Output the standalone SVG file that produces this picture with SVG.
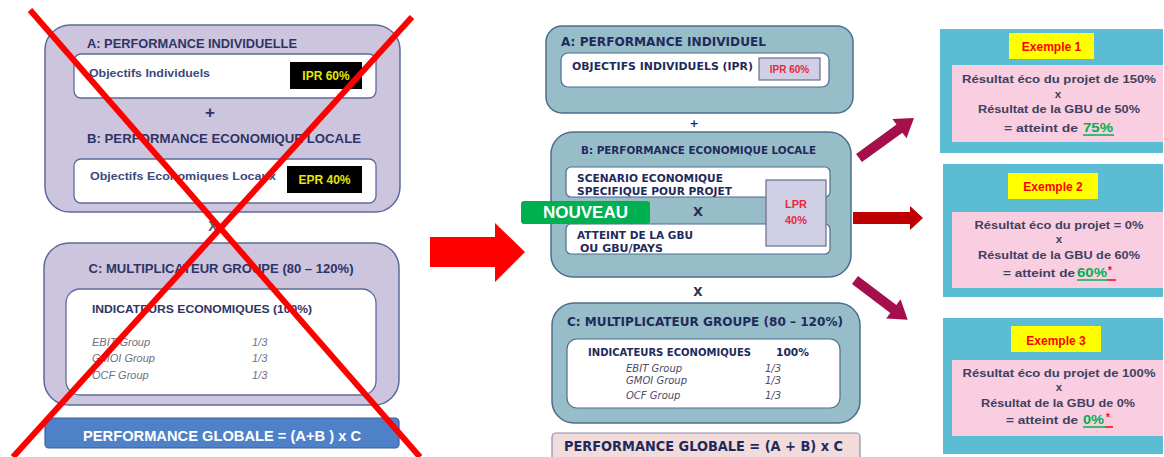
<svg xmlns="http://www.w3.org/2000/svg" width="1164" height="457" viewBox="0 0 1164 457">
<style>
.lav{fill:#cdc4dd;stroke:#5d6b98;stroke-width:1.5}
.wl{fill:#fff;stroke:#5d6b98;stroke-width:1.3}
.teal{fill:#97bec8;stroke:#4d6d8d;stroke-width:1.5}
.wm{fill:#fff;stroke:#4d6d8d;stroke-width:1.2}
.lpr{fill:#cfcfe6;stroke:#6b6b8b;stroke-width:1.2}
.ex{fill:#5bbdd3}
.yel{fill:#ffff00}
.pink{fill:#f9cee0}
.lt{font-family:"Liberation Sans",Arial,sans-serif;font-weight:bold;fill:#2e3566}
.lo{font-family:"Liberation Sans",Arial,sans-serif;font-weight:bold;fill:#3b4a7c}
.lg{font-family:"Liberation Sans",Arial,sans-serif;font-style:italic;fill:#707080;font-size:11px}
.mt{font-family:"DejaVu Sans",Verdana,sans-serif;font-weight:bold;fill:#1f2a5c}
.mi{font-family:"DejaVu Sans",Verdana,sans-serif;font-style:italic;fill:#4a4a6a;font-size:10px}
.red{fill:#e8283c;font-family:"Liberation Sans",Arial,sans-serif;font-weight:bold}
.rt{font-family:"Liberation Sans",Arial,sans-serif;font-weight:bold;fill:#404060;font-size:11.5px}
.exl{font-family:"Liberation Sans",Arial,sans-serif;font-weight:bold;fill:#ff0000;font-size:12px}
.gr{fill:#00b050;font-size:13px}
.ast{font-family:"Liberation Sans",Arial,sans-serif;font-weight:bold;fill:#ff0000;font-size:10px}
</style>

<!-- LEFT (old) -->
<g id="left-ab">
  <rect class="lav" x="45" y="25" width="355" height="187" rx="25"/>
  <text class="lt" x="87" y="48" font-size="12.5" textLength="210" lengthAdjust="spacingAndGlyphs">A: PERFORMANCE INDIVIDUELLE</text>
  <rect class="wl" x="74" y="54" width="302" height="44" rx="7"/>
  <text class="lo" x="89" y="77" font-size="11" textLength="121" lengthAdjust="spacingAndGlyphs">Objectifs Individuels</text>
  <rect x="290" y="62" width="72" height="27" fill="#000"/>
  <text x="326" y="80" text-anchor="middle" font-family="Liberation Sans, Arial, sans-serif" font-weight="bold" font-size="12" fill="#e6e600">IPR 60%</text>
  <text class="lt" x="210" y="118" font-size="17" text-anchor="middle">+</text>
  <text class="lt" x="87" y="143" font-size="12.5" textLength="274" lengthAdjust="spacingAndGlyphs">B: PERFORMANCE ECONOMIQUE LOCALE</text>
  <rect class="wl" x="74" y="159" width="302" height="44" rx="7"/>
  <text class="lo" x="90" y="180" font-size="11" textLength="186" lengthAdjust="spacingAndGlyphs">Objectifs Economiques Locaux</text>
  <rect x="287" y="166" width="75" height="27" fill="#000"/>
  <text x="324.5" y="184" text-anchor="middle" font-family="Liberation Sans, Arial, sans-serif" font-weight="bold" font-size="12" fill="#e6e600">EPR 40%</text>
</g>
<g id="left-x">
  <text class="lt" x="213" y="231" font-size="14" text-anchor="middle" style="fill:#555a70">X</text>
</g>
<g id="left-c">
  <rect class="lav" x="44" y="243" width="355" height="162" rx="25"/>
  <text class="lt" x="221" y="273" font-size="13" text-anchor="middle" textLength="265" lengthAdjust="spacingAndGlyphs">C: MULTIPLICATEUR GROUPE (80 – 120%)</text>
  <rect class="wl" x="66" y="289" width="310" height="106" rx="14"/>
  <text class="lt" x="92" y="313" font-size="11.5" textLength="220" lengthAdjust="spacingAndGlyphs">INDICATEURS ECONOMIQUES (100%)</text>
  <text class="lg" x="92" y="346">EBIT Group</text>
  <text class="lg" x="92" y="362">GMOI Group</text>
  <text class="lg" x="92" y="379">OCF Group</text>
  <text class="lg" x="252" y="346">1/3</text>
  <text class="lg" x="252" y="362">1/3</text>
  <text class="lg" x="252" y="379">1/3</text>
</g>
<g id="left-global">
  <rect x="45" y="418" width="354" height="30" rx="4" fill="#4f81c8" stroke="#3a5f99" stroke-width="1.2"/>
  <text x="222" y="441" text-anchor="middle" font-family="Liberation Sans, Arial, sans-serif" font-weight="bold" font-size="15" fill="#fff" textLength="278" lengthAdjust="spacingAndGlyphs">PERFORMANCE GLOBALE = (A+B ) x C</text>
</g>
<g id="crossout" stroke="#ff0000" stroke-width="6" stroke-linecap="butt">
  <line x1="30" y1="10" x2="420" y2="457"/>
  <line x1="412" y1="17" x2="13" y2="457"/>
</g>

<!-- MIDDLE (new) -->
<g id="mid-a">
  <rect class="teal" x="546" y="26" width="307" height="87" rx="16"/>
  <text class="mt" x="561" y="46" font-size="12" textLength="205" lengthAdjust="spacingAndGlyphs">A:  PERFORMANCE INDIVIDUEL</text>
  <rect class="wm" x="561" y="53" width="268" height="34" rx="7"/>
  <text class="mt" x="572" y="70" font-size="10" textLength="181" lengthAdjust="spacingAndGlyphs">OBJECTIFS INDIVIDUELS (IPR)</text>
  <rect class="lpr" x="759" y="58" width="61" height="22"/>
  <text class="red" x="789.5" y="73" text-anchor="middle" font-size="10">IPR 60%</text>
</g>
<g id="mid-plus">
  <text class="mt" x="694" y="127" font-size="11" text-anchor="middle">+</text>
</g>
<g id="mid-b">
  <rect class="teal" x="551" y="132" width="300" height="145" rx="22"/>
  <text class="mt" x="581" y="154" font-size="10" textLength="235" lengthAdjust="spacingAndGlyphs">B: PERFORMANCE ECONOMIQUE LOCALE</text>
  <rect class="wm" x="566" y="167" width="264" height="30" rx="5"/>
  <text class="mt" x="577" y="182" font-size="10" textLength="146" lengthAdjust="spacingAndGlyphs">SCENARIO ECONOMIQUE</text>
  <text class="mt" x="577" y="195" font-size="10" textLength="155" lengthAdjust="spacingAndGlyphs">SPECIFIQUE POUR PROJET</text>
  <text class="mt" x="698" y="216" font-size="13" text-anchor="middle" style="fill:#2a3050">X</text>
  <rect class="wm" x="566" y="224" width="264" height="30" rx="5"/>
  <text class="mt" x="577" y="239" font-size="10" textLength="116" lengthAdjust="spacingAndGlyphs">ATTEINT DE LA GBU</text>
  <text class="mt" x="580" y="252" font-size="10" textLength="83" lengthAdjust="spacingAndGlyphs">OU GBU/PAYS</text>
  <rect class="lpr" x="766" y="180" width="60" height="66"/>
  <text class="red" x="796" y="208" text-anchor="middle" font-size="11">LPR</text>
  <text class="red" x="796" y="224" text-anchor="middle" font-size="11">40%</text>
</g>
<g id="nouveau">
  <rect x="521" y="201" width="129" height="23" rx="3" fill="#00b050"/>
  <text x="543" y="218" font-family="Liberation Sans, Arial, sans-serif" font-weight="bold" font-size="16" fill="#fff" textLength="85" lengthAdjust="spacingAndGlyphs">NOUVEAU</text>
</g>
<g id="mid-x">
  <text class="mt" x="698" y="296" font-size="12" text-anchor="middle" style="fill:#2a3050">X</text>
</g>
<g id="mid-c">
  <rect class="teal" x="552" y="303" width="308" height="120" rx="22"/>
  <text class="mt" x="567" y="326" font-size="12" textLength="276" lengthAdjust="spacingAndGlyphs">C: MULTIPLICATEUR GROUPE (80 – 120%)</text>
  <rect class="wm" x="567" y="339" width="273" height="69" rx="10"/>
  <text class="mt" x="588" y="356" font-size="10.5" textLength="163" lengthAdjust="spacingAndGlyphs">INDICATEURS ECONOMIQUES</text>
  <text class="mt" x="776" y="356" font-size="10.5" textLength="33" lengthAdjust="spacingAndGlyphs">100%</text>
  <text class="mi" x="626" y="372">EBIT Group</text>
  <text class="mi" x="626" y="384">GMOI Group</text>
  <text class="mi" x="626" y="399">OCF Group</text>
  <text class="mi" x="765" y="372">1/3</text>
  <text class="mi" x="765" y="384">1/3</text>
  <text class="mi" x="765" y="399">1/3</text>
</g>
<g id="mid-global">
  <rect x="552" y="433" width="308" height="32" rx="4" fill="#f2dcdb" stroke="#8c8ca8" stroke-width="1.2"/>
  <text class="mt" x="564" y="451" font-size="14" textLength="279" lengthAdjust="spacingAndGlyphs">PERFORMANCE GLOBALE = (A + B) x C</text>
</g>

<!-- RIGHT (examples) -->
<g id="exemple1">
  <rect class="ex" x="940" y="29" width="223" height="124"/>
  <rect class="yel" x="1009" y="33" width="85" height="26"/>
  <text class="exl" x="1051.5" y="51" text-anchor="middle">Exemple 1</text>
  <rect class="pink" x="952" y="65" width="211" height="77"/>
  <text class="rt" x="1059" y="83" text-anchor="middle" textLength="194" lengthAdjust="spacingAndGlyphs">Résultat éco du projet de 150%</text>
  <text class="rt" x="1058" y="98" text-anchor="middle">x</text>
  <text class="rt" x="1059" y="113" text-anchor="middle" textLength="162" lengthAdjust="spacingAndGlyphs">Résultat de la GBU de 50%</text>
  <text class="rt" x="1004" y="132" textLength="74" lengthAdjust="spacingAndGlyphs">= atteint de</text>
  <text class="rt gr" x="1083" y="132" textLength="30" lengthAdjust="spacingAndGlyphs">75%</text>
  <line x1="1083" y1="135" x2="1114" y2="135" stroke="#00b050" stroke-width="1.5"/>
</g>
<g id="exemple2">
  <rect class="ex" x="943" y="164" width="220" height="133"/>
  <rect class="yel" x="1008" y="173" width="90" height="26"/>
  <text class="exl" x="1053" y="191" text-anchor="middle">Exemple 2</text>
  <rect class="pink" x="952" y="212" width="211" height="76"/>
  <text class="rt" x="1059" y="229" text-anchor="middle" textLength="169" lengthAdjust="spacingAndGlyphs">Résultat éco du projet = 0%</text>
  <text class="rt" x="1059" y="243" text-anchor="middle">x</text>
  <text class="rt" x="1059" y="259" text-anchor="middle" textLength="162" lengthAdjust="spacingAndGlyphs">Résultat de la GBU de 60%</text>
  <text class="rt" x="1003" y="277" textLength="72" lengthAdjust="spacingAndGlyphs">= atteint de</text>
  <text class="rt gr" x="1077" y="277" textLength="30" lengthAdjust="spacingAndGlyphs">60%</text>
  <text class="ast" x="1108" y="274">*</text>
  <line x1="1077" y1="280" x2="1107" y2="280" stroke="#00b050" stroke-width="1.5"/>
  <line x1="1107" y1="280" x2="1116" y2="280" stroke="#ff0000" stroke-width="1.5"/>
</g>
<g id="exemple3">
  <rect class="ex" x="943" y="318" width="220" height="136"/>
  <rect class="yel" x="1011" y="326" width="90" height="26"/>
  <text class="exl" x="1056" y="345" text-anchor="middle">Exemple 3</text>
  <rect class="pink" x="952" y="360" width="211" height="76"/>
  <text class="rt" x="1059" y="377" text-anchor="middle" textLength="193" lengthAdjust="spacingAndGlyphs">Résultat éco du projet de 100%</text>
  <text class="rt" x="1059" y="391" text-anchor="middle">x</text>
  <text class="rt" x="1058" y="407" text-anchor="middle" textLength="154" lengthAdjust="spacingAndGlyphs">Résultat de la GBU de 0%</text>
  <text class="rt" x="1006" y="424" textLength="72" lengthAdjust="spacingAndGlyphs">= atteint de</text>
  <text class="rt gr" x="1083" y="424" textLength="21" lengthAdjust="spacingAndGlyphs">0%</text>
  <text class="ast" x="1106" y="421">*</text>
  <line x1="1083" y1="427" x2="1105" y2="427" stroke="#00b050" stroke-width="1.5"/>
  <line x1="1105" y1="427" x2="1113" y2="427" stroke="#ff0000" stroke-width="1.5"/>
</g>

<!-- CONNECTORS -->
<g id="connectors">
  <polygon points="430,237 495,237 495,223 525,252 495,282 495,267 430,267" fill="#ff0000"/>
  <polygon points="0,-5 50,-5 50,-12 68,0 50,12 50,5 0,5" fill="#a50f4c" transform="translate(859,158) rotate(-36)"/>
  <polygon points="853,212 910,212 910,206 923,218 910,230 910,224 853,224" fill="#c00000"/>
  <polygon points="0,-5 48,-5 48,-12 66,0 48,12 48,5 0,5" fill="#a50f4c" transform="translate(855,280) rotate(37)"/>
</g>
</svg>
